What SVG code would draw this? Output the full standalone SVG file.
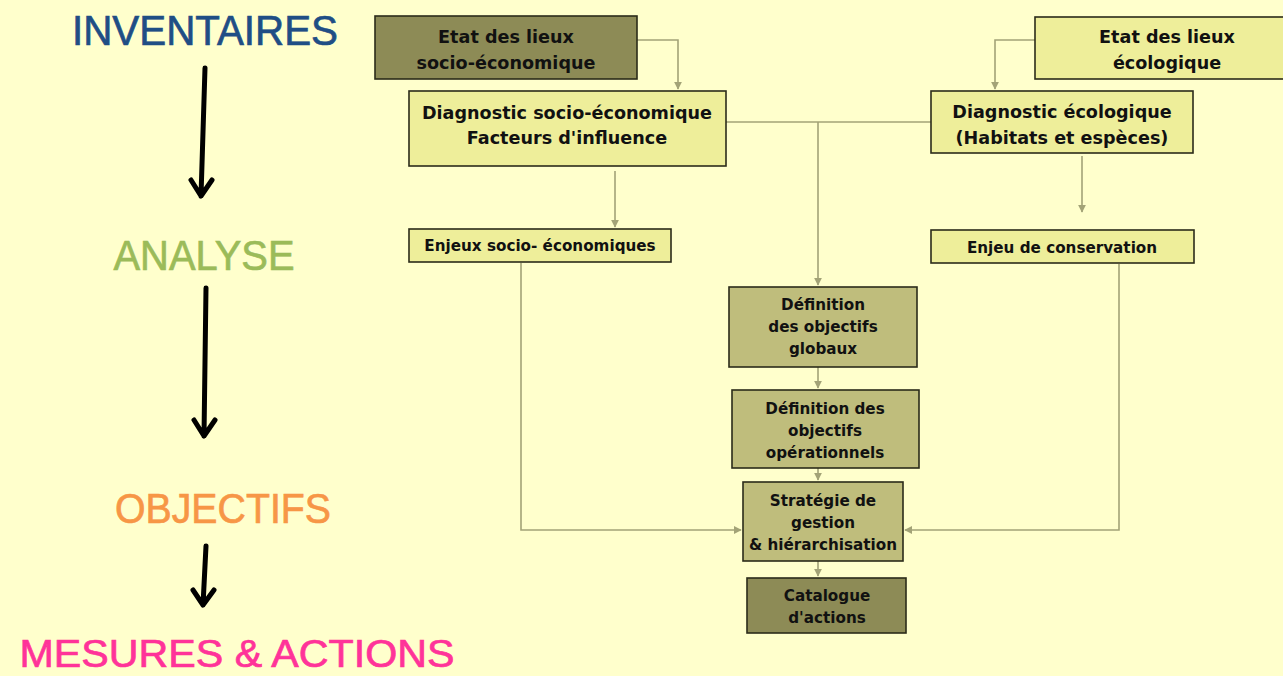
<svg xmlns="http://www.w3.org/2000/svg" width="1283" height="676" viewBox="0 0 1283 676">
<style>
.box{stroke:#2b2b1a;stroke-width:1.6}
.dark{fill:#8d8b56}
.light{fill:#eeee9a}
.mid{fill:#bfbd7c}
.t{font-family:"DejaVu Sans",Verdana,sans-serif;font-weight:bold;fill:#111;text-anchor:middle;font-size:17.6px}
.s{font-size:15.2px}
.c{fill:none;stroke:#a3a377;stroke-width:1.6}
.big{font-family:"Liberation Sans",Arial,sans-serif;font-size:43px;text-anchor:middle;stroke-width:0.7}
.bk{fill:none;stroke:#000;stroke-width:5;stroke-linecap:round;stroke-linejoin:round}
</style>
<defs>
<marker id="ah" viewBox="0 0 10 10" refX="9" refY="5" markerWidth="8" markerHeight="8" markerUnits="userSpaceOnUse" orient="auto"><path d="M0,0 L10,5 L0,10 z" fill="#a3a377"/></marker>
</defs>
<rect x="0" y="0" width="1283" height="676" fill="#ffffcc"/>

<g id="left-labels">
<text class="big" x="205" y="45" fill="#1f4e85" stroke="#1f4e85" textLength="266" lengthAdjust="spacingAndGlyphs">INVENTAIRES</text>
<text class="big" x="204" y="270" fill="#9bbb59" stroke="#9bbb59" textLength="181" lengthAdjust="spacingAndGlyphs">ANALYSE</text>
<text class="big" x="223" y="523" fill="#f79646" stroke="#f79646" textLength="216" lengthAdjust="spacingAndGlyphs">OBJECTIFS</text>
<text class="big" x="237" y="667" fill="#ff3399" stroke="#ff3399" style="font-size:38px" textLength="435" lengthAdjust="spacingAndGlyphs">MESURES &amp; ACTIONS</text>
<path class="bk" d="M205,68 L201,196 M191,180 L201,196 L212,180"/>
<path class="bk" d="M206,288 L204,436 M194,420 L204,436 L215,420"/>
<path class="bk" d="M206,546 L203,605 M193,590 L203,605 L214,590"/>
</g>

<g id="connectors">
<path class="c" d="M637,40 H678 V89" marker-end="url(#ah)"/>
<path class="c" d="M1035,40 H995 V89" marker-end="url(#ah)"/>
<path class="c" d="M726,122 H931"/>
<path class="c" d="M818,122 V285" marker-end="url(#ah)"/>
<path class="c" d="M615,171 V227" marker-end="url(#ah)"/>
<path class="c" d="M1082,156 V212" marker-end="url(#ah)"/>
<path class="c" d="M521,263 V530 H741" marker-end="url(#ah)"/>
<path class="c" d="M1119,264 V530 H905" marker-end="url(#ah)"/>
<path class="c" d="M818,367 V388" marker-end="url(#ah)"/>
<path class="c" d="M818,468 V480" marker-end="url(#ah)"/>
<path class="c" d="M818,561 V576" marker-end="url(#ah)"/>
</g>

<g id="etat-socio">
<rect class="box dark" x="375" y="16" width="262" height="63"/>
<text class="t" x="506" y="43">Etat des lieux</text>
<text class="t" x="506" y="69">socio-économique</text>
</g>
<g id="diag-socio">
<rect class="box light" x="409" y="91" width="317" height="75"/>
<text class="t" x="567" y="119">Diagnostic socio-économique</text>
<text class="t" x="567" y="144">Facteurs d'influence</text>
</g>
<g id="etat-eco">
<rect class="box light" x="1035" y="17" width="250" height="62"/>
<text class="t" x="1167" y="43">Etat des lieux</text>
<text class="t" x="1167" y="69">écologique</text>
</g>
<g id="diag-eco">
<rect class="box light" x="931" y="91" width="262" height="62"/>
<text class="t" x="1062" y="118">Diagnostic écologique</text>
<text class="t" x="1062" y="144">(Habitats et espèces)</text>
</g>
<g id="enjeux-socio">
<rect class="box light" x="409" y="229" width="262" height="33"/>
<text class="t s" x="540" y="251">Enjeux socio- économiques</text>
</g>
<g id="enjeu-cons">
<rect class="box light" x="931" y="230" width="263" height="33"/>
<text class="t s" x="1062" y="253">Enjeu de conservation</text>
</g>
<g id="def-globaux">
<rect class="box mid" x="729" y="287" width="188" height="80"/>
<text class="t s" x="823" y="310">Définition</text>
<text class="t s" x="823" y="332">des objectifs</text>
<text class="t s" x="823" y="354">globaux</text>
</g>
<g id="def-oper">
<rect class="box mid" x="732" y="390" width="187" height="78"/>
<text class="t s" x="825" y="414">Définition des</text>
<text class="t s" x="825" y="436">objectifs</text>
<text class="t s" x="825" y="458">opérationnels</text>
</g>
<g id="strategie">
<rect class="box mid" x="743" y="482" width="160" height="79"/>
<text class="t s" x="823" y="506">Stratégie de</text>
<text class="t s" x="823" y="528">gestion</text>
<text class="t s" x="823" y="550">&amp; hiérarchisation</text>
</g>
<g id="catalogue">
<rect class="box dark" x="747" y="578" width="159" height="55"/>
<text class="t s" x="827" y="601">Catalogue</text>
<text class="t s" x="827" y="623">d'actions</text>
</g>
</svg>
